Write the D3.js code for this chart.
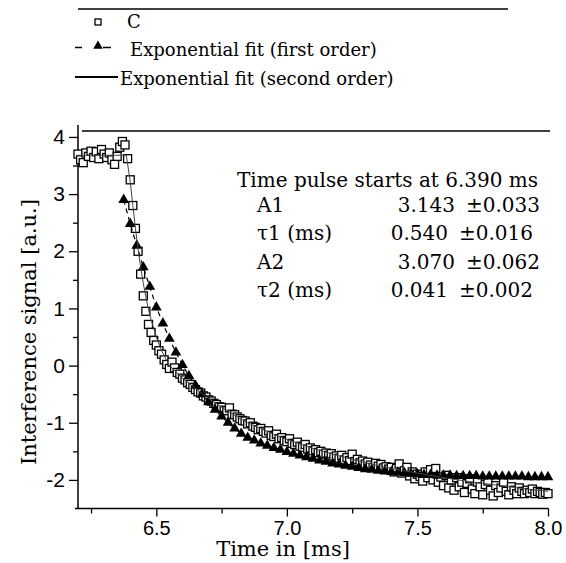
<!DOCTYPE html>
<html><head><meta charset="utf-8">
<script src="https://cdn.jsdelivr.net/npm/d3@7"></script>
<style>body{margin:0;background:#fff}</style>
</head><body><svg id="c" width="566" height="563"></svg>
<script>
// ---- data ----
const sqStart = 6.20, sqStep = 0.01;
const sqValues = [
 3.70,3.60,3.55,3.72,3.66,3.75,3.64,3.74,3.62,3.78,3.70,3.64,3.72,3.60,3.52,3.66,3.82,
 3.92,3.86,3.62,3.25,2.80,2.40,2.00,1.60,1.22,0.95,0.72,0.58,0.44,0.36,0.26,0.20,0.10,0.02,
 -0.05,0.06,-0.04,-0.12,-0.15,-0.22,-0.25,-0.30,-0.33,-0.38,-0.42,-0.46,-0.48,-0.53,-0.55,
 -0.60,-0.62,-0.66,-0.68,-0.72,-0.73,-0.78,-0.79,-0.74,-0.85,-0.86,-0.90,-0.93,-0.96,-0.97,
 -1.02,-1.00,-1.06,-1.08,-1.12,-1.10,-1.15,-1.18,-1.14,-1.22,-1.24,-1.20,-1.28,-1.26,-1.31,
 -1.33,-1.28,-1.36,-1.38,-1.34,-1.41,-1.43,-1.38,-1.46,-1.44,-1.49,-1.47,-1.52,-1.50,-1.55,
 -1.53,-1.57,-1.54,-1.60,-1.58,-1.62,-1.57,-1.65,-1.61,-1.66,-1.55,-1.68,-1.64,-1.70,-1.67,
 -1.72,-1.69,-1.74,-1.78,-1.71,-1.76,-1.73,-1.79,-1.77,-1.81,
 -1.78,-1.86,-1.80,-1.72,-1.88,-1.84,-1.78,-1.93,-1.86,-1.98,-1.90,-1.94,-2.02,-1.86,-1.96,
 -1.82,-2.00,-1.80,-2.04,-1.95,-2.10,-1.92,-2.14,-2.00,-2.18,-1.96,-2.12,-2.04,-2.22,-2.06,
 -1.98,-2.16,-2.24,-2.04,-2.12,-2.26,-2.08,-2.02,-2.18,-2.28,-2.10,-2.22,-2.14,-2.04,-2.20,
 -2.26,-2.12,-2.18,-2.24,-2.14,-2.20,-2.24,-2.18,-2.22,-2.16,-2.24,-2.20,-2.22,-2.25,-2.22,-2.24
];
const triStart = 6.375, triStep = 0.025;
const triValues = [
 2.90,2.48,2.10,1.72,1.38,1.02,0.74,0.47,0.23,0.01,
 -0.18,-0.35,-0.50,-0.64,-0.77,-0.89,-1.00,-1.10,-1.19,-1.26,
 -1.31,-1.36,-1.40,-1.44,-1.47,-1.51,-1.54,-1.57,-1.60,-1.63,
 -1.66,-1.68,-1.71,-1.73,-1.75,-1.77,-1.79,-1.81,-1.82,-1.84,
 -1.85,-1.86,-1.87,-1.88,-1.89,-1.90,-1.91,-1.91,-1.92,-1.92,
 -1.92,-1.93,-1.93,-1.93,-1.93,-1.94,-1.94,-1.94,-1.94,-1.94,
 -1.94,-1.94,-1.95,-1.95,-1.95,-1.95
];
const fitTimes  = [6.20,6.385,6.40,6.41,6.42,6.43,6.44,6.45,6.46,6.47,6.48,6.50,6.52,6.55,6.60,6.65,6.70,6.75,6.80,6.85,6.90,6.95,7.00,7.10,7.20,7.30,7.40,7.50,7.60,7.70,7.80,7.90,8.00];
const fitValues = [3.68,3.68,3.22,2.80,2.40,2.04,1.72,1.44,1.20,0.98,0.80,0.50,0.26,0.00,-0.22,-0.40,-0.57,-0.73,-0.87,-1.00,-1.10,-1.20,-1.29,-1.45,-1.58,-1.70,-1.80,-1.88,-1.96,-2.03,-2.09,-2.15,-2.20];
const xTicks = [6.5,7.0,7.5,8.0];
const xMinor = [6.25,6.75,7.25,7.75];
const yTicks = [-2,-1,0,1,2,3,4];
const yMinor = [-1.5,-0.5,0.5,1.5,2.5,3.5];
const legendLabels = ["C","Exponential fit (first order)","Exponential fit (second order)"];
const annotTitle = "Time pulse starts at 6.390 ms";
const annotLabels = ["A1","\u03C41 (ms)","A2","\u03C42 (ms)"];
const annotValues = ["3.143","0.540","3.070","0.041"];
const annotErrors = ["\u00B10.033","\u00B10.016","\u00B10.062","\u00B10.002"];
const xTitle = "Time in [ms]";
const yTitle = "Interference signal [a.u.]";

// ---- chart ----
const svg = d3.select("#c");
const x = d3.scaleLinear().domain([6.2,8.0]).range([78,548]);
const y = d3.scaleLinear().domain([-2.5,4.2]).range([508.5,125.5]);
const serif = "'DejaVu Serif', serif";
const sans = "'Liberation Sans', Arial, sans-serif";

const sq = sqValues.map((v,i)=>({t: sqStart + i*sqStep, v}));
const tri = triValues.map((v,i)=>({t: triStart + i*triStep, v}));
const fit = fitTimes.map((t,i)=>({t, v: fitValues[i]}));

// frame lines
svg.append("line").attr("x1",78).attr("x2",508).attr("y1",9).attr("y2",9).attr("stroke","#000").attr("stroke-width",1.5);
svg.append("line").attr("x1",82).attr("x2",550).attr("y1",131).attr("y2",131).attr("stroke","#000").attr("stroke-width",1.5);

// axes
const gx = svg.append("g").attr("transform","translate(0,508.5)");
gx.call(d3.axisBottom(x).tickValues(xTicks).tickSize(8).tickSizeOuter(0).tickFormat(d3.format(".1f")));
gx.append("g").call(d3.axisBottom(x).tickValues(xMinor).tickSize(5).tickFormat(""));
gx.selectAll(".domain").remove();
gx.selectAll("line").attr("stroke-width",1.3);
gx.selectAll("text").attr("font-family",sans).attr("font-size",20).attr("dy","0.71em").attr("y",12);
svg.append("line").attr("x1",75).attr("x2",548.5).attr("y1",508.5).attr("y2",508.5).attr("stroke","#000").attr("stroke-width",1.5);

const gy = svg.append("g").attr("transform","translate(78,0)");
gy.call(d3.axisLeft(y).tickValues(yTicks).tickSize(9).tickSizeOuter(0).tickFormat(d=>String(d)));
gy.append("g").call(d3.axisLeft(y).tickValues(yMinor).tickSize(5).tickFormat(""));
gy.selectAll(".domain").remove();
gy.selectAll("line").attr("stroke-width",1.3);
gy.selectAll("text").attr("font-family",sans).attr("font-size",21).attr("x",-13);
svg.append("line").attr("x1",78).attr("x2",78).attr("y1",125).attr("y2",509).attr("stroke","#000").attr("stroke-width",1.5);

// titles
svg.append("text").attr("x",283).attr("y",556).attr("text-anchor","middle")
  .attr("font-family",serif).attr("font-size",21).text(xTitle);
svg.append("text").attr("transform","translate(36,332) rotate(-90)").attr("text-anchor","middle")
  .attr("font-family",serif).attr("font-size",21).text(yTitle);

// marks
const triPath = d3.symbol().type(d3.symbolTriangle).size(50);
const line = d3.line().x(d=>x(d.t)).y(d=>y(d.v));

svg.append("g").selectAll("rect").data(sq).join("rect")
  .attr("x",d=>x(d.t)-4).attr("y",d=>y(d.v)-4).attr("width",8).attr("height",8)
  .attr("fill","#fff").attr("stroke","#000").attr("stroke-width",1.3);

svg.append("path").datum(tri).attr("d",line).attr("fill","none").attr("stroke","#000")
  .attr("stroke-width",1.2).attr("stroke-dasharray","5,4");
svg.append("g").selectAll("path").data(tri).join("path")
  .attr("d",triPath).attr("transform",d=>`translate(${x(d.t)},${y(d.v)})`).attr("fill","#000");

svg.append("path").datum(fit).attr("d",line).attr("fill","none").attr("stroke","#444").attr("stroke-width",1);

// legend
const lg = svg.append("g");
lg.append("rect").attr("x",95).attr("y",19).attr("width",6).attr("height",6).attr("fill","#fff").attr("stroke","#000").attr("stroke-width",1.3);
lg.append("line").attr("x1",75).attr("x2",82).attr("y1",47.5).attr("y2",47.5).attr("stroke","#000").attr("stroke-width",1.5);
lg.append("line").attr("x1",103).attr("x2",111).attr("y1",47.5).attr("y2",47.5).attr("stroke","#000").attr("stroke-width",1.5);
lg.append("path").attr("d",d3.symbol().type(d3.symbolTriangle).size(40)).attr("transform","translate(98,46)").attr("fill","#000");
lg.append("line").attr("x1",75).attr("x2",118).attr("y1",77).attr("y2",77).attr("stroke","#000").attr("stroke-width",2);
const legX = [127,130,120], legY = [28,56,85];
legendLabels.forEach((s,i)=>{
  lg.append("text").attr("x",legX[i]).attr("y",legY[i]).attr("font-family",serif).attr("font-size",18).text(s);
});

// annotation
const an = svg.append("g").attr("font-family",serif).attr("font-size",20);
an.append("text").attr("x",237).attr("y",187).text(annotTitle);
annotLabels.forEach((s,i)=>{
  const by = 212 + i*28.3;
  const shift = s.startsWith("\u03C4") ? -7 : 0;
  an.append("text").attr("x",257).attr("y",by).text(s);
  an.append("text").attr("x",455+shift).attr("y",by).attr("text-anchor","end").text(annotValues[i]);
  an.append("text").attr("x",466+shift).attr("y",by).text(annotErrors[i]);
});
</script>
</body></html>
